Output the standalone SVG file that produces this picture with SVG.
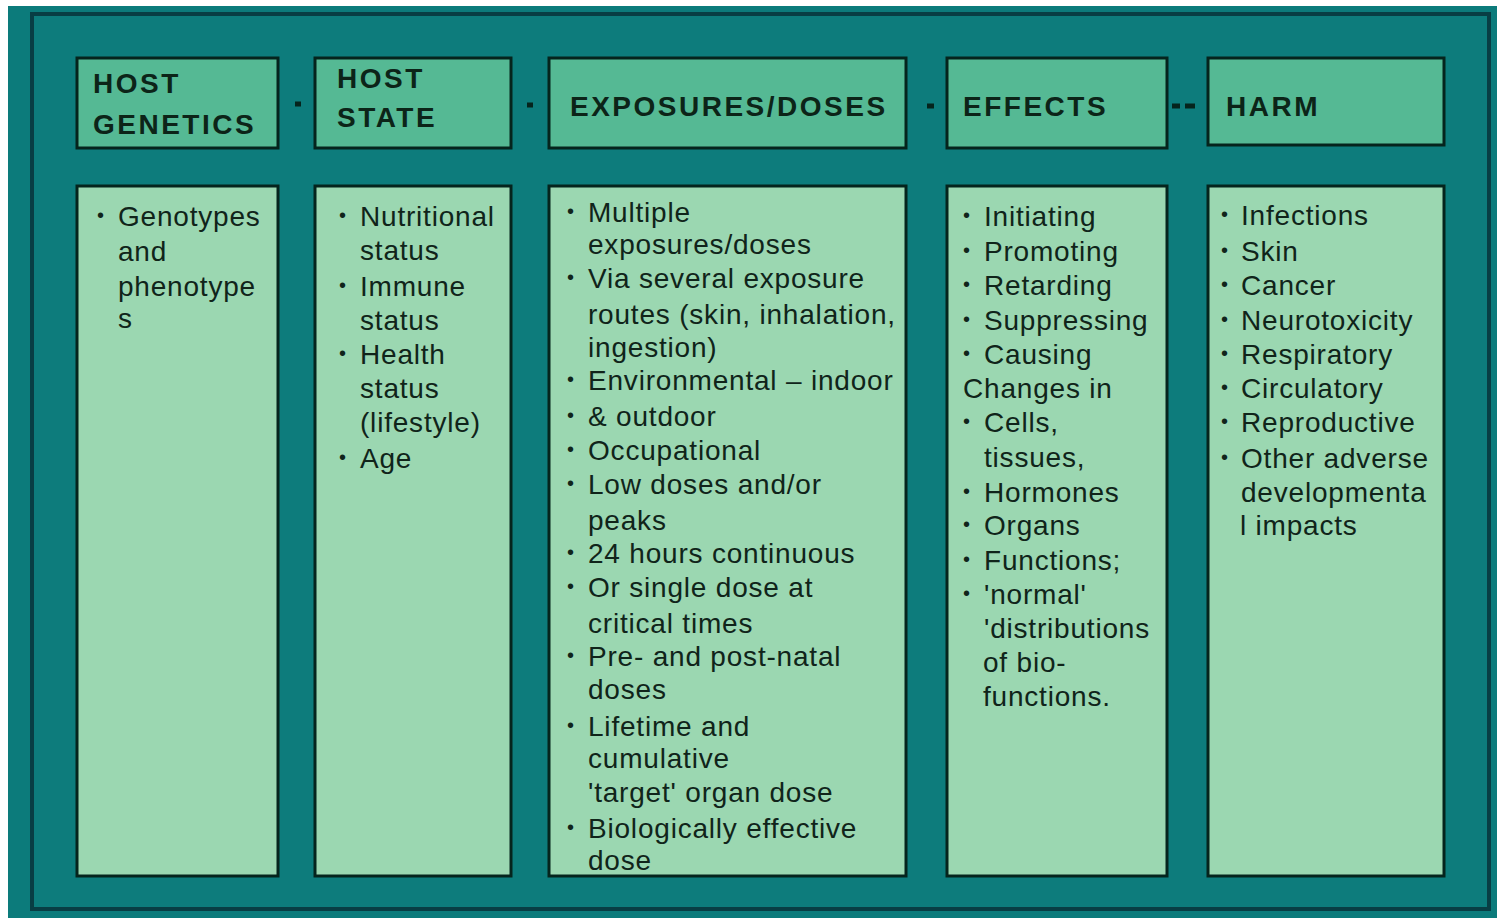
<svg xmlns="http://www.w3.org/2000/svg" width="1501" height="922" viewBox="0 0 1501 922">
<style>
.hd{fill:#55b994;stroke:#05241d;stroke-width:3}
.bd{fill:#9bd7b1;stroke:#05241d;stroke-width:3}
.ht{font-family:"Liberation Sans",Arial,sans-serif;font-weight:bold;font-size:28px;letter-spacing:2.5px;fill:#0c2418}
.bt{font-family:"Liberation Sans",Arial,sans-serif;font-size:28px;letter-spacing:0.8px;fill:#10241a}
.bu{font-family:"Liberation Sans",Arial,sans-serif;font-size:20px;fill:#10241a}
.cn{stroke:#05241d;stroke-width:5}
</style>
<rect x="0" y="0" width="1501" height="922" fill="#ffffff"/>
<rect x="8" y="6" width="1489" height="912" fill="#0c7b7b"/>
<rect x="32" y="14" width="1457" height="895" fill="#0d7c7c" stroke="#083e44" stroke-width="4"/>

<g id="connectors">
<line class="cn" x1="295" y1="104" x2="301" y2="104"/>
<line class="cn" x1="527" y1="105" x2="533" y2="105"/>
<line class="cn" x1="927" y1="106" x2="934" y2="106"/>
<line class="cn" x1="1172" y1="106" x2="1180" y2="106"/>
<line class="cn" x1="1185" y1="106" x2="1195" y2="106" stroke-width="3"/>
</g>

<g id="host-genetics">
<rect class="hd" x="77" y="58" width="201" height="90"/>
<text class="ht" x="93" y="93">HOST</text>
<text class="ht" x="93" y="134">GENETICS</text>
</g>
<g id="host-state">
<rect class="hd" x="315" y="58" width="196" height="90"/>
<text class="ht" x="337" y="88">HOST</text>
<text class="ht" x="337" y="127">STATE</text>
</g>
<g id="exposures">
<rect class="hd" x="549" y="58" width="357" height="90"/>
<text class="ht" x="570" y="116">EXPOSURES/DOSES</text>
</g>
<g id="effects">
<rect class="hd" x="947" y="58" width="220" height="90"/>
<text class="ht" x="963" y="116">EFFECTS</text>
</g>
<g id="harm">
<rect class="hd" x="1208" y="58" width="236" height="87"/>
<text class="ht" x="1226" y="116">HARM</text>
</g>

<g id="host-genetics-list">
<rect class="bd" x="77" y="186" width="201" height="690"/>
<text class="bu" x="97" y="222">•</text>
<text class="bt" x="118" y="226">Genotypes</text>
<text class="bt" x="118" y="261">and</text>
<text class="bt" x="118" y="296">phenotype</text>
<text class="bt" x="118" y="328">s</text>
</g>

<g id="host-state-list">
<rect class="bd" x="315" y="186" width="196" height="690"/>
<g class="bu">
<text x="339" y="222">•</text>
<text x="339" y="292">•</text>
<text x="339" y="360">•</text>
<text x="339" y="464">•</text>
</g>
<text class="bt" x="360" y="226">Nutritional</text>
<text class="bt" x="360" y="260">status</text>
<text class="bt" x="360" y="296">Immune</text>
<text class="bt" x="360" y="330">status</text>
<text class="bt" x="360" y="364">Health</text>
<text class="bt" x="360" y="398">status</text>
<text class="bt" x="360" y="432">(lifestyle)</text>
<text class="bt" x="360" y="468">Age</text>
</g>

<g id="exposures-list">
<rect class="bd" x="549" y="186" width="357" height="690"/>
<g class="bu">
<text x="567" y="218">•</text>
<text x="567" y="284">•</text>
<text x="567" y="386">•</text>
<text x="567" y="422">•</text>
<text x="567" y="456">•</text>
<text x="567" y="490">•</text>
<text x="567" y="559">•</text>
<text x="567" y="593">•</text>
<text x="567" y="662">•</text>
<text x="567" y="732">•</text>
<text x="567" y="834">•</text>
</g>
<text class="bt" x="588" y="222">Multiple</text>
<text class="bt" x="588" y="254">exposures/doses</text>
<text class="bt" x="588" y="288">Via several exposure</text>
<text class="bt" x="588" y="324">routes (skin, inhalation,</text>
<text class="bt" x="588" y="357">ingestion)</text>
<text class="bt" x="588" y="390">Environmental – indoor</text>
<text class="bt" x="588" y="426">&amp; outdoor</text>
<text class="bt" x="588" y="460">Occupational</text>
<text class="bt" x="588" y="494">Low doses and/or</text>
<text class="bt" x="588" y="530">peaks</text>
<text class="bt" x="588" y="563">24 hours continuous</text>
<text class="bt" x="588" y="597">Or single dose at</text>
<text class="bt" x="588" y="633">critical times</text>
<text class="bt" x="588" y="666">Pre- and post-natal</text>
<text class="bt" x="588" y="699">doses</text>
<text class="bt" x="588" y="736">Lifetime and</text>
<text class="bt" x="588" y="768">cumulative</text>
<text class="bt" x="588" y="802">'target' organ dose</text>
<text class="bt" x="588" y="838">Biologically effective</text>
<text class="bt" x="588" y="870">dose</text>
</g>

<g id="effects-list">
<rect class="bd" x="947" y="186" width="220" height="690"/>
<g class="bu">
<text x="963" y="222">•</text>
<text x="963" y="257">•</text>
<text x="963" y="291">•</text>
<text x="963" y="326">•</text>
<text x="963" y="360">•</text>
<text x="963" y="428">•</text>
<text x="963" y="498">•</text>
<text x="963" y="531">•</text>
<text x="963" y="566">•</text>
<text x="963" y="600">•</text>
</g>
<text class="bt" x="984" y="226">Initiating</text>
<text class="bt" x="984" y="261">Promoting</text>
<text class="bt" x="984" y="295">Retarding</text>
<text class="bt" x="984" y="330">Suppressing</text>
<text class="bt" x="984" y="364">Causing</text>
<text class="bt" x="963" y="398">Changes in</text>
<text class="bt" x="984" y="432">Cells,</text>
<text class="bt" x="984" y="467">tissues,</text>
<text class="bt" x="984" y="502">Hormones</text>
<text class="bt" x="984" y="535">Organs</text>
<text class="bt" x="984" y="570">Functions;</text>
<text class="bt" x="984" y="604">'normal'</text>
<text class="bt" x="984" y="638">'distributions</text>
<text class="bt" x="983" y="672">of bio-</text>
<text class="bt" x="983" y="706">functions.</text>
</g>

<g id="harm-list">
<rect class="bd" x="1208" y="186" width="236" height="690"/>
<g class="bu">
<text x="1221" y="221">•</text>
<text x="1221" y="257">•</text>
<text x="1221" y="291">•</text>
<text x="1221" y="326">•</text>
<text x="1221" y="360">•</text>
<text x="1221" y="394">•</text>
<text x="1221" y="428">•</text>
<text x="1221" y="464">•</text>
</g>
<text class="bt" x="1241" y="225">Infections</text>
<text class="bt" x="1241" y="261">Skin</text>
<text class="bt" x="1241" y="295">Cancer</text>
<text class="bt" x="1241" y="330">Neurotoxicity</text>
<text class="bt" x="1241" y="364">Respiratory</text>
<text class="bt" x="1241" y="398">Circulatory</text>
<text class="bt" x="1241" y="432">Reproductive</text>
<text class="bt" x="1241" y="468">Other adverse</text>
<text class="bt" x="1241" y="502">developmenta</text>
<text class="bt" x="1240" y="535">l impacts</text>
</g>
</svg>
